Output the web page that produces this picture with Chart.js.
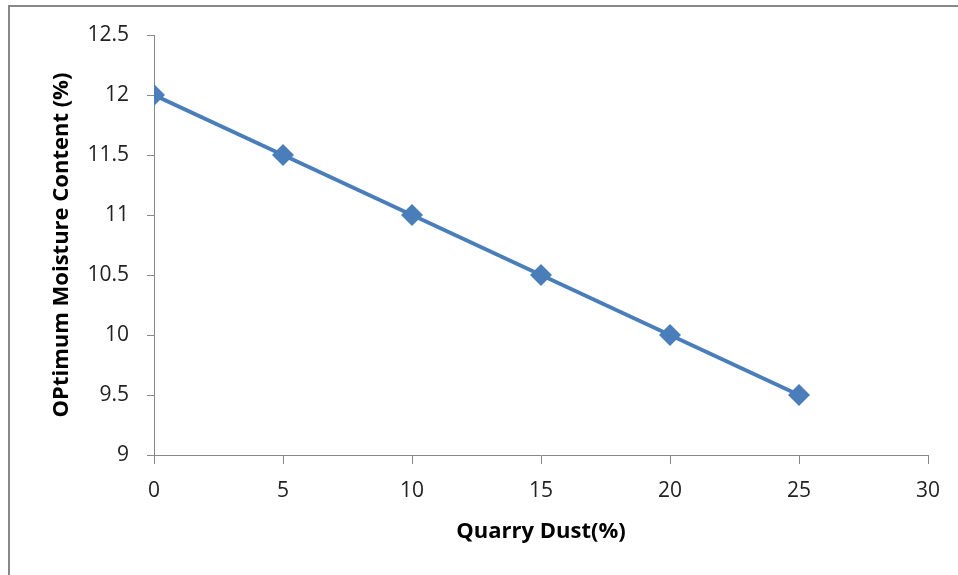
<!DOCTYPE html>
<html>
<head>
<meta charset="utf-8">
<script src="https://cdn.jsdelivr.net/npm/chart.js@4"></script>
<style>
    body { margin: 0; background: #fff; }
    #wrap { position: relative; width: 958px; height: 575px; overflow: hidden; }
    #frame { position: absolute; left: 8px; top: 5px; width: 1000px; height: 700px; border-top: 2px solid #888; border-left: 2px solid #888; }
    #myChart_omc { position: absolute; left: 0; top: 0; }
</style>
</head>
<body>
<div id="wrap">
    <div id="frame"></div>
    <canvas id="myChart_omc" width="958" height="575"></canvas>
</div>
<script>
const quarryDust = [0, 5, 10, 15, 20, 25];
const omc = [12, 11.5, 11, 10.5, 10, 9.5];
const xTicks = [0, 5, 10, 15, 20, 25, 30];
const yTicks = [9, 9.5, 10, 10.5, 11, 11.5, 12, 12.5];

function criarGrafico () {
    const ctomc = document.getElementById('myChart_omc');

    new Chart(ctomc, {
        type: 'line',
        data: {
            datasets: [{
                label: 'OMC',
                data: quarryDust.map((x, i) => ({ x: x, y: omc[i] })),
                borderColor: '#4A7EBB',
                backgroundColor: '#4A7EBB',
                borderWidth: 4,
                pointStyle: 'rectRot',
                pointRadius: 11,
                pointHoverRadius: 11,
                pointBorderWidth: 0,
                tension: 0
            }]
        },
        options: {
            responsive: false,
            animation: false,
            layout: { padding: { top: 35, right: 30, left: 46, bottom: 0 } },
            plugins: { legend: { display: false }, tooltip: { enabled: false } },
            scales: {
                x: {
                    type: 'linear',
                    min: 0,
                    max: 30,
                    afterBuildTicks: (axis) => { axis.ticks = xTicks.map(v => ({ value: v })); },
                    afterFit: (axis) => { axis.height = 120; },
                    grid: { drawOnChartArea: false, drawTicks: true, tickLength: 9, color: '#888' },
                    border: { color: '#888', width: 1 },
                    ticks: { color: '#222', font: { family: 'Open Sans', size: 21 }, padding: 14, maxRotation: 0, callback: (v) => String(v) },
                    title: { display: true, text: 'Quarry Dust(%)', color: '#000', font: { family: 'Open Sans', size: 22, weight: 'bold' }, padding: { bottom: 30 } }
                },
                y: {
                    min: 9,
                    max: 12.5,
                    afterBuildTicks: (axis) => { axis.ticks = yTicks.map(v => ({ value: v })); },
                    afterFit: (axis) => { axis.width = 108; },
                    grid: { drawOnChartArea: false, drawTicks: true, tickLength: 7, color: '#888' },
                    border: { color: '#888', width: 1 },
                    ticks: { color: '#222', font: { family: 'Open Sans', size: 21 }, padding: 18, callback: (v) => String(v) },
                    title: { display: true, text: 'OPtimum Moisture Content (%)', color: '#000', font: { family: 'Open Sans', size: 22, weight: 'bold' }, padding: { top: 3 } }
                }
            }
        }
    });
}

criarGrafico();
</script>
</body>
</html>
